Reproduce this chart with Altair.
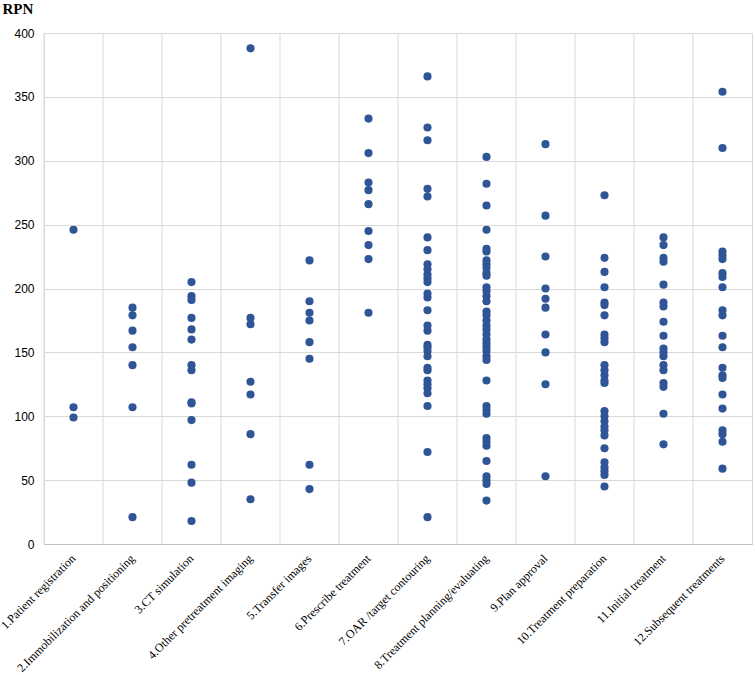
import altair as alt
import pandas as pd

categories = [
    "1.Patient registration",
    "2.Immobilization and positioning",
    "3.CT simulation",
    "4.Other pretreatment imaging",
    "5.Transfer images",
    "6.Prescribe treatment",
    "7.OAR /target contouring",
    "8.Treatment planning/evaluating",
    "9.Plan approval",
    "10.Treatment preparation",
    "11.Initial treatment",
    "12.Subsequent treatments",
]

rpn_1 = [246, 107, 99]
rpn_2 = [185, 179, 167, 154, 140, 107, 21]
rpn_3 = [205, 194, 191, 177, 168, 160, 140, 136, 111, 110, 97, 62, 48, 18]
rpn_4 = [388, 177, 172, 127, 117, 86, 35]
rpn_5 = [222, 190, 181, 175, 158, 145, 62, 43]
rpn_6 = [333, 306, 283, 277, 266, 245, 234, 223, 181]
rpn_7 = [366, 326, 316, 278, 272, 240, 230, 219, 215, 211, 208, 205, 196, 193,
         183, 171, 167, 156, 154, 151, 147, 138, 136, 128, 125, 122, 118, 108, 72, 21]
rpn_8 = [303, 282, 265, 246, 231, 229, 222, 219, 216, 212, 210, 201, 198, 194,
         190, 182, 179, 175, 171, 168, 164, 160, 157, 154, 151, 147, 144, 128,
         108, 105, 102, 83, 80, 77, 65, 53, 50, 47, 34]
rpn_9 = [313, 257, 225, 200, 192, 185, 164, 150, 125, 53]
rpn_10 = [273, 224, 213, 201, 189, 187, 179, 164, 161, 158, 140, 136, 132, 128,
          126, 104, 100, 96, 92, 89, 85, 75, 64, 60, 57, 54, 45]
rpn_11 = [240, 234, 224, 221, 203, 189, 186, 174, 163, 153, 150, 147, 140, 136,
          126, 123, 102, 78]
rpn_12 = [354, 310, 229, 226, 223, 212, 209, 201, 183, 179, 163, 154, 138, 132,
          130, 117, 106, 89, 86, 80, 59]

series = [rpn_1, rpn_2, rpn_3, rpn_4, rpn_5, rpn_6, rpn_7, rpn_8, rpn_9,
          rpn_10, rpn_11, rpn_12]

rows = []
for cat, vals in zip(categories, series):
    for v in vals:
        rows.append({"step": cat, "rpn": v})
df = pd.DataFrame(rows)
grid_df = pd.DataFrame({"step": categories})

GRID = "#d9d9d9"
xscale = alt.Scale(domain=categories, paddingInner=0, paddingOuter=0)
xaxis = alt.Axis(
    title=None,
    labelAngle=315,
    labelAlign="right",
    labelBaseline="middle",
    labelPadding=12,
    labelFont="Liberation Serif",
    labelFontSize=12,
    labelColor="#000000",
    labelLimit=0,
    labelOverlap=False,
    ticks=False,
    grid=False,
    domain=True,
    domainColor="#bfbfbf",
)

points = alt.Chart(df).mark_circle(size=66, color="#2f5597", opacity=1).encode(
    x=alt.X("step:N", scale=xscale, sort=categories, axis=xaxis),
    y=alt.Y(
        "rpn:Q",
        scale=alt.Scale(domain=[0, 400]),
        axis=alt.Axis(
            title="RPN",
            titleAngle=0,
            titleAlign="left",
            titleBaseline="top",
            titleX=-42,
            titleY=-32,
            titleFont="Liberation Serif",
            titleFontSize=15,
            titleFontWeight="bold",
            titleColor="#000000",
            values=[0, 50, 100, 150, 200, 250, 300, 350, 400],
            labelFont="Liberation Sans",
            labelFontSize=12,
            labelColor="#000000",
            labelPadding=10,
            ticks=False,
            tickSize=0,
            domain=False,
            grid=True,
            gridColor=GRID,
            gridWidth=1,
        ),
    ),
)

grid = alt.Chart(grid_df).mark_rule(color=GRID, strokeWidth=1).encode(
    x=alt.X("step:N", bandPosition=0, scale=xscale, sort=categories, axis=xaxis)
)

chart = (
    alt.layer(grid, points)
    .properties(
        width=708,
        height=511,
        autosize=alt.AutoSizeParams(type="none"),
        padding={"left": 44, "top": 33, "right": 3, "bottom": 131},
        background="white",
    )
    .configure_view(stroke=GRID, strokeWidth=1)
)

chart.save("out.html", embed_options={"renderer": "svg", "actions": False})
